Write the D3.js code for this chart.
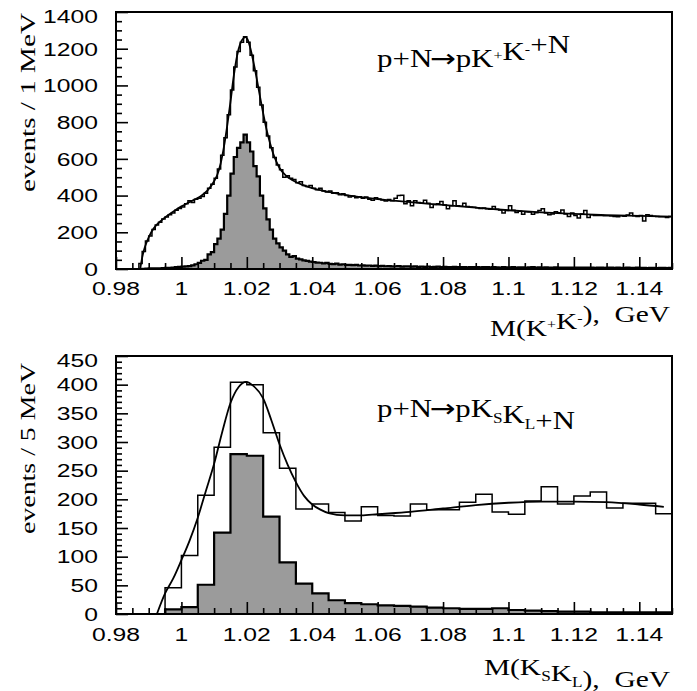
<!DOCTYPE html>
<html>
<head>
<meta charset="utf-8">
<script src="https://cdn.jsdelivr.net/npm/d3@7"></script>
<style>
  body { margin: 0; background: #fff; }
  text { fill: #000; }
</style>
</head>
<body>
<script>
// ---- data ----
// top panel: 1 MeV bins from 0.980 GeV
var kkTotal = [
  0,0,0,0,0,0,0,30,95,152,
  180,215,240,255,272,283,296,305,320,330,
  338,355,372,362,380,385,395,412,440,462,
  495,545,620,715,840,975,1100,1185,1235,1265,
  1235,1165,1080,990,893,800,725,660,607,567,
  540,500,508,495,488,470,475,455,450,455,
  440,432,440,425,420,425,412,415,405,410,
  400,392,398,388,394,385,392,380,375,388,
  382,376,370,378,372,385,400,402,356,372,
  345,372,362,360,375,358,335,352,355,368,
  348,328,345,372,344,342,358,340,338,336,
  333,330,332,328,326,340,325,322,305,318,
  345,320,308,314,298,312,310,298,306,318,
  328,305,296,300,312,306,322,300,286,305,
  292,278,300,318,280,296,292,292,291,290,
  290,289,286,284,290,288,294,305,290,286,
  292,262,296,292,288,286,285,284,280,286
];
var kkSignal = [
  0,0,0,0,0,0,0,0,1,2,
  3,3,4,4,5,6,6,8,10,12,
  13,14,16,20,26,33,45,50,80,92,
  135,165,215,300,400,520,610,660,690,732,
  690,640,560,505,400,330,270,215,165,140,
  118,100,80,66,70,56,52,47,44,40,
  38,35,34,31,33,28,27,29,24,26,
  22,23,21,22,19,20,18,19,17,18,
  16,17,15,16,14,15,16,13,14,14,
  13,14,12,13,12,13,11,12,13,11,
  12,11,10,12,11,10,11,9,10,11,
  10,9,10,11,9,10,9,8,10,9,
  9,10,8,9,9,8,9,10,8,9,
  8,9,7,8,9,8,7,8,8,7,
  8,7,8,7,7,8,6,7,7,6,
  7,7,6,7,6,6,7,6,6,7,
  6,6,5,6,6,5,6,6,5,6
];
var kkFitMass = [0.9874,0.988,0.9885,0.989,0.990,0.991,0.992,0.994,0.996,0.998,
  1.000,1.002,1.004,1.006,1.008,1.010,1.011,1.012,1.013,1.014,
  1.015,1.016,1.017,1.018,1.019,1.0196,1.0202,1.021,1.022,1.023,
  1.024,1.025,1.026,1.027,1.028,1.029,1.030,1.032,1.034,1.037,
  1.040,1.045,1.050,1.060,1.070,1.080,1.090,1.100,1.110,1.120,
  1.130,1.140,1.150];
var kkFitEvents = [0,62,100,128,172,207,232,266,294,319,
  341,360,378,398,428,478,515,575,665,780,
  910,1050,1160,1228,1258,1263,1252,1208,1130,1040,
  942,848,762,692,632,586,550,508,484,458,
  440,420,404,381,364,349,334,320,309,300,
  294,289,285];

// bottom panel: 5 MeV bins from 0.980 GeV
var ksklTotal = [0,0,0,46,102,207,291,404,400,316,
  254,183,192,177,162,187,172,171,192,182,
  182,195,209,178,174,197,222,192,206,213,
  185,193,193,175];
var ksklSignal = [0,0,0,8,12,51,142,279,276,170,
  90,53,36,24,19,17,15,14,13,11,
  10,9,9,10,7,6,5,4,4,3,
  3,3,3,3];
var ksklFitMass = [0.9925,0.995,0.9975,1.000,1.0025,1.005,1.0075,1.010,1.0125,1.015,
  1.0175,1.0198,1.022,1.025,1.0275,1.030,1.0325,1.035,1.0375,1.040,
  1.0425,1.045,1.050,1.055,1.060,1.070,1.080,1.090,1.100,1.110,
  1.120,1.130,1.140,1.1475];
var ksklFitEvents = [0,36,62,94,128,168,215,262,318,368,
  396,405,398,376,338,296,260,230,206,191,
  182,176,172,172,174,178,184,190,194,196,
  196,195,191,187];

var xTickValues = [0.98,1.00,1.02,1.04,1.06,1.08,1.10,1.12,1.14];
var xTickLabels = ["0.98","1","1.02","1.04","1.06","1.08","1.1","1.12","1.14"];
var kkYTicks = [0,200,400,600,800,1000,1200,1400];
var ksklYTicks = [0,50,100,150,200,250,300,350,400,450];

// ---- drawing ----
var w = 697, h = 691;
var left = 116, right = 672;
var svg = d3.select("body").append("svg").attr("width", w).attr("height", h);

var xScale = d3.scaleLinear().domain([0.98, 1.15]).range([left, right]);
var xMinor = d3.range(0, 35).filter(function(i){ return i % 4 != 0; })
  .map(function(i){ return 0.98 + i * 0.005; });

var sans = "'Liberation Sans', Arial, Helvetica, sans-serif";
var serif = "'Liberation Serif', 'Times New Roman', Times, serif";

function stepData(vals, bw) {
  var pts = vals.map(function(v, i){ return [0.98 + i * bw, v]; });
  pts.push([0.98 + vals.length * bw, vals[vals.length - 1]]);
  return pts;
}

// stretch text horizontally so it spans the target width
function fitWidth(node, target, ax, ay) {
  var bb = node.getBBox();
  var k = target / bb.width;
  d3.select(node).attr("transform",
    "translate(" + ax + "," + ay + ") scale(" + k + ",1) translate(" + (-ax) + "," + (-ay) + ")");
}
function widen(sel, k, ax, ay) {
  sel.attr("transform", "translate(" + ax + "," + ay + ") scale(" + k + ",1) translate(" + (-ax) + "," + (-ay) + ")");
}

function sup(t, s) {
  t.append("tspan").attr("font-size", 13).attr("dy", -7).text(s);
  t.append("tspan").attr("dy", 7).text("");
}
function sub(t, s) {
  t.append("tspan").attr("font-size", 14).attr("dy", 6).text(s);
  t.append("tspan").attr("dy", -6).text("");
}
function arrow(t) {
  t.append("tspan").attr("dx", -2).attr("font-family", "'DejaVu Sans', sans-serif").text("\u2192");
  t.append("tspan").attr("dx", -2).text("");
}

function panel(o) {
  var top = o.top, bottom = o.bottom;
  var y = d3.scaleLinear().domain([0, o.ymax]).range([bottom, top]);
  var g = svg.append("g");
  var clipId = "clip" + o.id;
  g.append("clipPath").attr("id", clipId).append("rect")
    .attr("x", left).attr("y", top).attr("width", right - left).attr("height", bottom - top);
  var plot = g.append("g").attr("clip-path", "url(#" + clipId + ")");

  var area = d3.area().curve(d3.curveStepAfter)
    .x(function(d){ return xScale(d[0]); })
    .y0(y(0)).y1(function(d){ return y(d[1]); });
  var line = d3.line().curve(d3.curveStepAfter)
    .x(function(d){ return xScale(d[0]); })
    .y(function(d){ return y(d[1]); });

  plot.append("path").datum(stepData(o.signal, o.bw))
    .attr("d", area).attr("fill", "#9b9b9b").attr("stroke", "#000")
    .attr("stroke-width", 2.2);
  plot.append("path").datum(stepData(o.total, o.bw))
    .attr("d", line).attr("fill", "none").attr("stroke", "#000").attr("stroke-width", 1.5);

  var fit = o.fitMass.map(function(m, i){ return [m, o.fitEvents[i]]; });
  plot.append("path").datum(fit)
    .attr("d", d3.line().curve(d3.curveMonotoneX)
      .x(function(d){ return xScale(d[0]); })
      .y(function(d){ return y(d[1]); }))
    .attr("fill", "none").attr("stroke", "#000").attr("stroke-width", 1.8);

  // ticks, pointing into the frame
  function ticks(axis, tr) {
    var a = g.append("g").attr("transform", tr).call(axis);
    a.select(".domain").remove();
    a.selectAll("line").attr("stroke", "#000").attr("stroke-width", 1.6);
    a.selectAll("text").remove();
  }
  var yMinor = d3.range(0, o.ymax + 1, o.yMinorStep)
    .filter(function(v){ return o.yTicks.indexOf(v) < 0; });
  ticks(d3.axisBottom(xScale).tickValues(xTickValues).tickSize(-12), "translate(0," + bottom + ")");
  ticks(d3.axisBottom(xScale).tickValues(xMinor).tickSize(-6), "translate(0," + bottom + ")");
  ticks(d3.axisLeft(y).tickValues(o.yTicks).tickSize(-12), "translate(" + left + ",0)");
  ticks(d3.axisLeft(y).tickValues(yMinor).tickSize(-6), "translate(" + left + ",0)");

  // frame
  g.append("rect").attr("x", left).attr("y", top).attr("width", right - left).attr("height", bottom - top)
    .attr("fill", "none").attr("stroke", "#000").attr("stroke-width", 2);

  // tick labels
  g.selectAll(".xl").data(xTickValues).enter().append("text")
    .attr("x", function(d){ return xScale(d); }).attr("y", o.xLabelY)
    .attr("text-anchor", "middle").attr("font-family", sans).attr("font-size", 19)
    .text(function(d, i){ return xTickLabels[i]; })
    .each(function(d){ widen(d3.select(this), 1.3, xScale(d), o.xLabelY); });
  g.selectAll(".yl").data(o.yTicks).enter().append("text")
    .attr("x", 98)
    .attr("y", function(d){ return Math.max(y(d), top + 4) + 6.8; })
    .attr("text-anchor", "end").attr("font-family", sans).attr("font-size", 19)
    .text(function(d){ return d; })
    .each(function(d){ widen(d3.select(this), 1.3, 98, Math.max(y(d), top + 4) + 6.8); });

  // y title
  svg.append("g").attr("transform", "translate(35," + o.yTitleTop + ") rotate(-90)")
    .append("text").attr("x", 0).attr("y", 0).attr("text-anchor", "end")
    .attr("font-family", serif).attr("font-size", 22)
    .attr("textLength", o.yTitleLen).attr("lengthAdjust", "spacingAndGlyphs")
    .text(o.yTitle);

  // reaction label
  var ann = svg.append("text").attr("x", 377).attr("y", o.annY)
    .attr("font-family", serif).attr("font-size", 25);
  o.ann(ann);
  fitWidth(ann.node(), o.annW, 377, o.annY);

  // x title
  var xt = svg.append("text").attr("x", 670).attr("y", o.xTitleY).attr("text-anchor", "end")
    .attr("font-family", serif).attr("font-size", 24).style("white-space", "pre");
  o.xTitle(xt);
  fitWidth(xt.node(), o.xTitleW, 670, o.xTitleY);
}

panel({
  id: 1, top: 12, bottom: 269, ymax: 1400, yTicks: kkYTicks, yMinorStep: 50,
  total: kkTotal, signal: kkSignal, bw: 0.001,
  fitMass: kkFitMass, fitEvents: kkFitEvents,
  xLabelY: 295, yTitle: "events / 1 MeV", yTitleTop: 13, yTitleLen: 179,
  annY: 67, annW: 193,
  ann: function(t){ t.append("tspan").text("p+N"); arrow(t); t.append("tspan").text("pK"); sup(t, "+"); t.append("tspan").text("K"); sup(t, "-"); t.append("tspan").text("+N"); },
  xTitleY: 336, xTitleW: 181,
  xTitle: function(t){ t.append("tspan").text("M(K"); sup(t, "+"); t.append("tspan").text("K"); sup(t, "-"); t.append("tspan").text("),  GeV"); }
});

panel({
  id: 2, top: 356, bottom: 614, ymax: 450, yTicks: ksklYTicks, yMinorStep: 10,
  total: ksklTotal, signal: ksklSignal, bw: 0.005,
  fitMass: ksklFitMass, fitEvents: ksklFitEvents,
  xLabelY: 641, yTitle: "events / 5 MeV", yTitleTop: 363, yTitleLen: 171,
  annY: 417, annW: 198,
  ann: function(t){ t.append("tspan").text("p+N"); arrow(t); t.append("tspan").text("pK"); sub(t, "S"); t.append("tspan").text("K"); sub(t, "L"); t.append("tspan").text("+N"); },
  xTitleY: 675, xTitleW: 187,
  xTitle: function(t){ t.append("tspan").text("M(K"); sub(t, "S"); t.append("tspan").text("K"); sub(t, "L"); t.append("tspan").text("),  GeV"); }
});
</script>
</body>
</html>
